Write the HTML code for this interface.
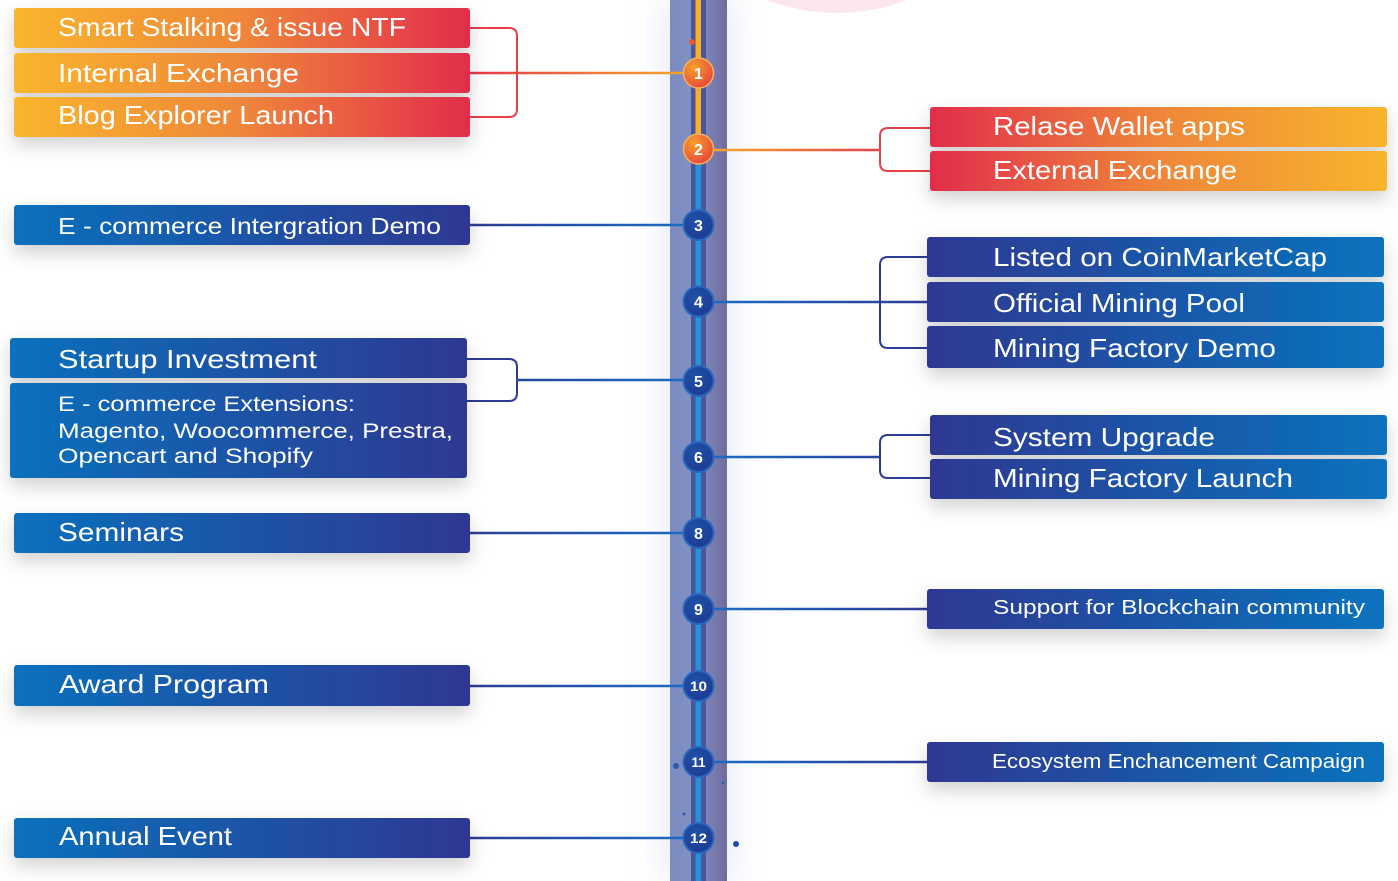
<!DOCTYPE html>
<html><head><meta charset="utf-8"><style>
html,body{margin:0;padding:0;background:#fff;}
svg{display:block;}
text{font-family:"Liberation Sans",sans-serif;}
</style></head><body>
<svg width="1398" height="881" viewBox="0 0 1398 881" xmlns="http://www.w3.org/2000/svg">
<defs>
<linearGradient id="gOL" x1="0" x2="1" y1="0" y2="0"><stop offset="0" stop-color="#f9b62c"/><stop offset="0.5" stop-color="#ef863a"/><stop offset="1" stop-color="#e22d4b"/></linearGradient>
<linearGradient id="gOR" x1="0" x2="1" y1="0" y2="0"><stop offset="0" stop-color="#e22d4b"/><stop offset="0.5" stop-color="#ef863a"/><stop offset="1" stop-color="#f8b52c"/></linearGradient>
<linearGradient id="gBL" x1="0" x2="1" y1="0" y2="0"><stop offset="0" stop-color="#0971bd"/><stop offset="1" stop-color="#2f3891"/></linearGradient>
<linearGradient id="gBR" x1="0" x2="1" y1="0" y2="0"><stop offset="0" stop-color="#2f3891"/><stop offset="1" stop-color="#0873be"/></linearGradient>
<linearGradient id="band" x1="0" x2="1" y1="0" y2="0"><stop offset="0" stop-color="#7c8bc0"/><stop offset="0.45" stop-color="#8391c3"/><stop offset="1" stop-color="#6f6b9d"/></linearGradient>
<linearGradient id="lnOL" x1="470" x2="690" y1="0" y2="0" gradientUnits="userSpaceOnUse"><stop offset="0" stop-color="#e4364a"/><stop offset="1" stop-color="#f6aa2c"/></linearGradient>
<linearGradient id="lnOR" x1="710" x2="880" y1="0" y2="0" gradientUnits="userSpaceOnUse"><stop offset="0" stop-color="#f6aa2c"/><stop offset="1" stop-color="#e6404a"/></linearGradient>
<linearGradient id="lnBL" x1="470" x2="690" y1="0" y2="0" gradientUnits="userSpaceOnUse"><stop offset="0" stop-color="#2d3c94"/><stop offset="1" stop-color="#1b6cc2"/></linearGradient>
<linearGradient id="lnBR" x1="710" x2="927" y1="0" y2="0" gradientUnits="userSpaceOnUse"><stop offset="0" stop-color="#1b6cc2"/><stop offset="1" stop-color="#2d3c94"/></linearGradient>
<radialGradient id="cO" cx="0.35" cy="0.3" r="0.8"><stop offset="0" stop-color="#f7a02b"/><stop offset="1" stop-color="#e5403c"/></radialGradient>
<radialGradient id="cB" cx="0.4" cy="0.35" r="0.8"><stop offset="0" stop-color="#2051a8"/><stop offset="1" stop-color="#1c3890"/></radialGradient>
<filter id="sh" x="-10%" y="-40%" width="120%" height="200%"><feDropShadow dx="0" dy="8" stdDeviation="9" flood-color="#000" flood-opacity="0.18"/></filter>
<filter id="glow" x="-100%" y="-5%" width="300%" height="110%"><feGaussianBlur stdDeviation="14"/></filter>
</defs>

<!-- pink arc top -->
<circle cx="837" cy="-182" r="195" fill="#fbe6ee"/>

<!-- band glow and band -->
<rect x="660" y="0" width="77" height="881" fill="#dde4f4" opacity="0.6" filter="url(#glow)"/>
<rect x="670" y="0" width="57" height="881" fill="url(#band)"/>
<rect x="691" y="0" width="15" height="881" fill="#4a5699"/>
<rect x="695.5" y="0" width="5.5" height="150" fill="#f6b02c"/>
<rect x="695.5" y="150" width="5.5" height="731" fill="#2393dc"/>

<!-- connectors left -->
<g fill="none" stroke-width="2">
<path d="M470,28 H509 Q517,28 517,36 V109 Q517,117 509,117 H470" stroke="#e6404a"/>
<path d="M470,73 H686" stroke="url(#lnOL)" stroke-width="2.5"/>
<path d="M470,225 H686" stroke="url(#lnBL)" stroke-width="2.5"/>
<path d="M467,359 H509 Q517,359 517,367 V393 Q517,401 509,401 H467" stroke="#2d3c94"/>
<path d="M517,380 H686" stroke="url(#lnBL)" stroke-width="2.5"/>
<path d="M470,533 H686" stroke="url(#lnBL)" stroke-width="2.5"/>
<path d="M470,686 H686" stroke="url(#lnBL)" stroke-width="2.5"/>
<path d="M470,838 H686" stroke="url(#lnBL)" stroke-width="2.5"/>
<!-- right -->
<path d="M711,150 H880" stroke="url(#lnOR)" stroke-width="2.5"/>
<path d="M930,128 H888 Q880,128 880,136 V163 Q880,171 888,171 H930" stroke="#e6404a"/>
<path d="M711,302 H927" stroke="url(#lnBR)" stroke-width="2.5"/>
<path d="M927,257 H888 Q880,257 880,265 V340 Q880,348 888,348 H927" stroke="#2d3c94"/>
<path d="M711,457 H880" stroke="url(#lnBR)" stroke-width="2.5"/>
<path d="M930,435 H888 Q880,435 880,443 V470 Q880,478 888,478 H930" stroke="#2d3c94"/>
<path d="M711,609 H927" stroke="url(#lnBR)" stroke-width="2.5"/>
<path d="M711,762 H927" stroke="url(#lnBR)" stroke-width="2.5"/>
</g>

<!-- boxes -->
<g filter="url(#sh)">
<rect x="14" y="8" width="456" height="40" rx="3" fill="url(#gOL)"/>
<rect x="14" y="53" width="456" height="40" rx="3" fill="url(#gOL)"/>
<rect x="14" y="97" width="456" height="40" rx="3" fill="url(#gOL)"/>
<rect x="14" y="205" width="456" height="40" rx="3" fill="url(#gBL)"/>
<rect x="10" y="338" width="457" height="40" rx="3" fill="url(#gBL)"/>
<rect x="10" y="383" width="457" height="95" rx="3" fill="url(#gBL)"/>
<rect x="14" y="513" width="456" height="40" rx="3" fill="url(#gBL)"/>
<rect x="14" y="665" width="456" height="41" rx="3" fill="url(#gBL)"/>
<rect x="14" y="818" width="456" height="40" rx="3" fill="url(#gBL)"/>
<rect x="930" y="107" width="457" height="40" rx="3" fill="url(#gOR)"/>
<rect x="930" y="151" width="457" height="40" rx="3" fill="url(#gOR)"/>
<rect x="927" y="237" width="457" height="40" rx="3" fill="url(#gBR)"/>
<rect x="927" y="282" width="457" height="40" rx="3" fill="url(#gBR)"/>
<rect x="927" y="326" width="457" height="42" rx="3" fill="url(#gBR)"/>
<rect x="930" y="415" width="457" height="40" rx="3" fill="url(#gBR)"/>
<rect x="930" y="459" width="457" height="40" rx="3" fill="url(#gBR)"/>
<rect x="927" y="589" width="457" height="40" rx="3" fill="url(#gBR)"/>
<rect x="927" y="742" width="457" height="40" rx="3" fill="url(#gBR)"/>
</g>

<!-- labels -->
<g fill="#fff" font-size="26">
<text x="58" y="36" textLength="348" lengthAdjust="spacingAndGlyphs">Smart Stalking &amp; issue NTF</text>
<text x="58" y="82" textLength="241" lengthAdjust="spacingAndGlyphs">Internal Exchange</text>
<text x="58" y="124" textLength="276" lengthAdjust="spacingAndGlyphs">Blog Explorer Launch</text>
<text x="58" y="234" font-size="23" textLength="383" lengthAdjust="spacingAndGlyphs">E - commerce Intergration Demo</text>
<text x="58" y="368" textLength="259" lengthAdjust="spacingAndGlyphs">Startup Investment</text>
<text x="58" y="411" font-size="21" textLength="297" lengthAdjust="spacingAndGlyphs">E - commerce Extensions:</text>
<text x="58" y="438" font-size="21" textLength="395" lengthAdjust="spacingAndGlyphs">Magento, Woocommerce, Prestra,</text>
<text x="58" y="463" font-size="21" textLength="255" lengthAdjust="spacingAndGlyphs">Opencart and Shopify</text>
<text x="58" y="541" textLength="126" lengthAdjust="spacingAndGlyphs">Seminars</text>
<text x="59" y="693" textLength="210" lengthAdjust="spacingAndGlyphs">Award Program</text>
<text x="59" y="845" textLength="173" lengthAdjust="spacingAndGlyphs">Annual Event</text>
<text x="993" y="135" textLength="252" lengthAdjust="spacingAndGlyphs">Relase Wallet apps</text>
<text x="993" y="179" textLength="244" lengthAdjust="spacingAndGlyphs">External Exchange</text>
<text x="993" y="266" textLength="334" lengthAdjust="spacingAndGlyphs">Listed on CoinMarketCap</text>
<text x="993" y="312" textLength="252" lengthAdjust="spacingAndGlyphs">Official Mining Pool</text>
<text x="993" y="357" textLength="283" lengthAdjust="spacingAndGlyphs">Mining Factory Demo</text>
<text x="993" y="446" textLength="222" lengthAdjust="spacingAndGlyphs">System Upgrade</text>
<text x="993" y="487" textLength="300" lengthAdjust="spacingAndGlyphs">Mining Factory Launch</text>
<text x="993" y="614" font-size="20" textLength="372" lengthAdjust="spacingAndGlyphs">Support for Blockchain community</text>
<text x="992" y="768" font-size="20" textLength="373" lengthAdjust="spacingAndGlyphs">Ecosystem Enchancement Campaign</text>
</g>

<!-- small dots -->
<circle cx="692" cy="42" r="3" fill="#e8543a"/>
<circle cx="676" cy="766" r="3" fill="#2a5bb0"/>
<circle cx="723" cy="783" r="1.2" fill="#2a5bb0"/>
<circle cx="684" cy="814" r="1.5" fill="#2a5bb0"/>
<circle cx="736" cy="844" r="3" fill="#1f4aa8"/>

<!-- circles -->
<g>
<circle cx="698.5" cy="73" r="15" fill="url(#cO)" stroke="#f6b25a" stroke-width="1.5"/>
<circle cx="698.5" cy="149" r="15" fill="url(#cO)" stroke="#f6b25a" stroke-width="1.5"/>
<circle cx="698.5" cy="225" r="15" fill="url(#cB)" stroke="#2a66bc" stroke-width="2"/>
<circle cx="698.5" cy="301.5" r="15" fill="url(#cB)" stroke="#2a66bc" stroke-width="2"/>
<circle cx="698.5" cy="381" r="15" fill="url(#cB)" stroke="#2a66bc" stroke-width="2"/>
<circle cx="698.5" cy="457" r="15" fill="url(#cB)" stroke="#2a66bc" stroke-width="2"/>
<circle cx="698.5" cy="533" r="15" fill="url(#cB)" stroke="#2a66bc" stroke-width="2"/>
<circle cx="698.5" cy="609" r="15" fill="url(#cB)" stroke="#2a66bc" stroke-width="2"/>
<circle cx="698.5" cy="686" r="15" fill="url(#cB)" stroke="#2a66bc" stroke-width="2"/>
<circle cx="698.5" cy="762" r="15" fill="url(#cB)" stroke="#2a66bc" stroke-width="2"/>
<circle cx="698.5" cy="838" r="15" fill="url(#cB)" stroke="#2a66bc" stroke-width="2"/>
</g>
<g fill="#fff" font-size="16" font-weight="bold" text-anchor="middle">
<text x="698.5" y="79">1</text>
<text x="698.5" y="155">2</text>
<text x="698.5" y="231">3</text>
<text x="698.5" y="307.5">4</text>
<text x="698.5" y="387">5</text>
<text x="698.5" y="463">6</text>
<text x="698.5" y="539">8</text>
<text x="698.5" y="615">9</text>
<text x="698.5" y="691" font-size="14" textLength="17" lengthAdjust="spacingAndGlyphs">10</text>
<text x="698.5" y="767" font-size="14" textLength="14" lengthAdjust="spacingAndGlyphs">11</text>
<text x="698.5" y="843" font-size="14" textLength="17" lengthAdjust="spacingAndGlyphs">12</text>
</g>
</svg>
</body></html>
